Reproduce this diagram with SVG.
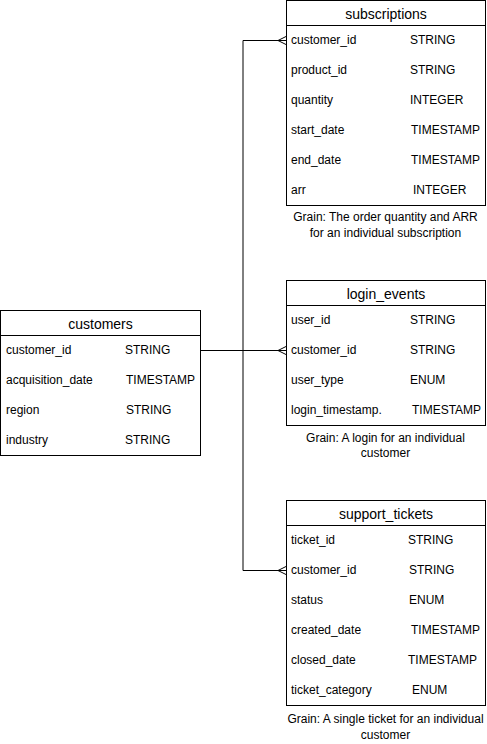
<svg xmlns="http://www.w3.org/2000/svg" width="487" height="744" viewBox="0 0 487 744">
<style>
.box{fill:#fff;stroke:#000;stroke-width:1}
.hl{stroke:#000;stroke-width:1}
text{font-family:"Liberation Sans",Arial,Helvetica,sans-serif;fill:#000}
.t{font-size:14px;text-anchor:middle}
.f{font-size:12px}
.g{font-size:12px;text-anchor:middle}
.c{fill:none;stroke:#000;stroke-width:1}
</style>
<rect width="487" height="744" fill="#fff"/>
<g id="connectors">
<path class="c" d="M243,40.5 V570.5"/>
<path class="c" d="M200.5,350.5 H286"/>
<path class="c" d="M243,40.5 H286"/>
<path class="c" d="M243,570.5 H286"/>
<path class="c" d="M286,36.5 L278,40.5 L286,44.5"/>
<path class="c" d="M286,346.5 L278,350.5 L286,354.5"/>
<path class="c" d="M286,566.5 L278,570.5 L286,574.5"/>
</g>
<g id="subscriptions">
<rect class="box" x="286.5" y="0.5" width="199" height="205"/>
<line class="hl" x1="286.5" y1="25.5" x2="485.5" y2="25.5"/>
<text class="t" x="386" y="18.5">subscriptions</text>
<text class="f" x="291" y="44.3">customer_id</text><text class="f" x="410" y="44.3">STRING</text>
<text class="f" x="291" y="74.3">product_id</text><text class="f" x="410" y="74.3">STRING</text>
<text class="f" x="291" y="104.3">quantity</text><text class="f" x="410" y="104.3">INTEGER</text>
<text class="f" x="291" y="134.3">start_date</text><text class="f" x="411" y="134.3">TIMESTAMP</text>
<text class="f" x="291" y="164.3">end_date</text><text class="f" x="411" y="164.3">TIMESTAMP</text>
<text class="f" x="291" y="194.3">arr</text><text class="f" x="413" y="194.3">INTEGER</text>
<text class="g" x="385.5" y="221">Grain: The order quantity and ARR</text>
<text class="g" x="385.5" y="237">for an individual subscription</text>
</g>
<g id="customers">
<rect class="box" x="0.5" y="310.5" width="200" height="145"/>
<line class="hl" x1="0.5" y1="335.5" x2="200.5" y2="335.5"/>
<text class="t" x="100.5" y="328.5">customers</text>
<text class="f" x="6" y="354.3">customer_id</text><text class="f" x="125" y="354.3">STRING</text>
<text class="f" x="6" y="384.3">acquisition_date</text><text class="f" x="126" y="384.3">TIMESTAMP</text>
<text class="f" x="6" y="414.3">region</text><text class="f" x="126" y="414.3">STRING</text>
<text class="f" x="6" y="444.3">industry</text><text class="f" x="125" y="444.3">STRING</text>
</g>
<g id="login_events">
<rect class="box" x="286.5" y="280.5" width="199" height="145"/>
<line class="hl" x1="286.5" y1="305.5" x2="485.5" y2="305.5"/>
<text class="t" x="386" y="298.5">login_events</text>
<text class="f" x="291" y="324.3">user_id</text><text class="f" x="410" y="324.3">STRING</text>
<text class="f" x="291" y="354.3">customer_id</text><text class="f" x="410" y="354.3">STRING</text>
<text class="f" x="291" y="384.3">user_type</text><text class="f" x="410" y="384.3">ENUM</text>
<text class="f" x="291" y="414.3">login_timestamp.</text><text class="f" x="412" y="414.3">TIMESTAMP</text>
<text class="g" x="385.5" y="442">Grain: A login for an individual</text>
<text class="g" x="385.5" y="457">customer</text>
</g>
<g id="support_tickets">
<rect class="box" x="286.5" y="500.5" width="199" height="205"/>
<line class="hl" x1="286.5" y1="525.5" x2="485.5" y2="525.5"/>
<text class="t" x="386" y="518.5">support_tickets</text>
<text class="f" x="291" y="544.3">ticket_id</text><text class="f" x="408" y="544.3">STRING</text>
<text class="f" x="291" y="574.3">customer_id</text><text class="f" x="409" y="574.3">STRING</text>
<text class="f" x="291" y="604.3">status</text><text class="f" x="409" y="604.3">ENUM</text>
<text class="f" x="291" y="634.3">created_date</text><text class="f" x="411" y="634.3">TIMESTAMP</text>
<text class="f" x="291" y="664.3">closed_date</text><text class="f" x="408" y="664.3">TIMESTAMP</text>
<text class="f" x="291" y="694.3">ticket_category</text><text class="f" x="412" y="694.3">ENUM</text>
<text class="g" x="385.5" y="723">Grain: A single ticket for an individual</text>
<text class="g" x="385.5" y="739">customer</text>
</g>
</svg>
